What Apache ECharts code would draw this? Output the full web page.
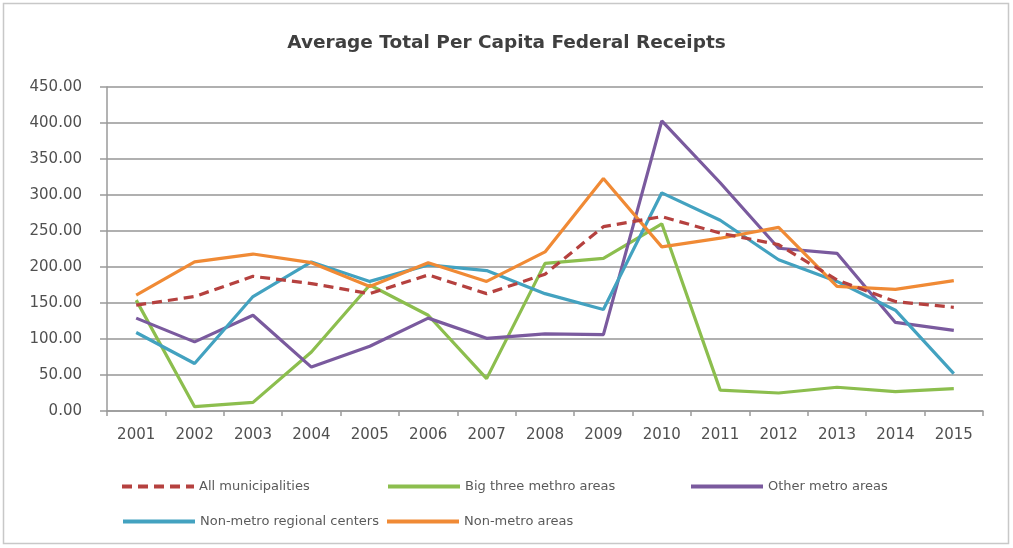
<!DOCTYPE html>
<html><head><meta charset="utf-8">
<script src="https://cdn.jsdelivr.net/npm/echarts@6/dist/echarts.min.js"></script>
<style>html,body{margin:0;padding:0;background:#fff}#c{width:1013px;height:548px}</style>
</head><body><div id="c"></div>
<script>
const years = ['2001','2002','2003','2004','2005','2006','2007','2008','2009','2010','2011','2012','2013','2014','2015'];
const allMunicipalities = [147,159,187,177,163,189,163,190,256,270,247,231,182,152,144];
const bigThree = [154,6,12,82,175,133,45,205,212,260,29,25,33,27,31];
const otherMetro = [129,96,133,61,90,129,101,107,106,403,317,226,219,123,112];
const nonMetroRegional = [109,66,159,207,180,203,195,163,141,303,265,210,180,140,52];
const nonMetroAreas = [161,207,218,206,173,206,180,221,323,228,240,255,173,169,181];
const yTicks = ['0.00','50.00','100.00','150.00','200.00','250.00','300.00','350.00','400.00','450.00'];

const names = ['All municipalities','Big three methro areas','Other metro areas','Non-metro regional centers','Non-metro areas'];
const colors = ['#b5413f','#8cbe4e','#7a5a9e','#43a2c0','#f08a35'];
const datas = [allMunicipalities,bigThree,otherMetro,nonMetroRegional,nonMetroAreas];
const legendPos = [[115,475],[381,475],[684,475],[116,510],[380,510]];

const chart = echarts.init(document.getElementById('c'), null, {renderer:'canvas'});
chart.setOption({
  animation:false,
  backgroundColor:'#fff',
  title:{text:'Average Total Per Capita Federal Receipts',left:'center',top:29,
    textStyle:{fontFamily:'DejaVu Sans',fontSize:18.5,fontWeight:'bold',color:'#3f3f3f'}},
  graphic:[{type:'rect',shape:{x:3.5,y:3.5,width:1005,height:540},style:{fill:'none',stroke:'#c8c8c8',lineWidth:1.5}}],
  grid:{left:107,right:30,top:87,bottom:137,containLabel:false},
  legend: names.map((n,i)=>({data:[n],left:legendPos[i][0],top:legendPos[i][1],itemWidth:72,itemHeight:10,itemGap:4,
     itemStyle:{opacity:0},
     lineStyle:{width:4},
     textStyle:{fontFamily:'DejaVu Sans',fontSize:13,color:'#5a5a5a'}})),
  xAxis:{type:'category',data:years,boundaryGap:true,
    axisLine:{lineStyle:{color:'#9a9a9a',width:1.5}},
    axisTick:{show:true,length:5,lineStyle:{color:'#9a9a9a',width:1.5}},
    axisLabel:{color:'#505050',fontFamily:'DejaVu Sans',fontSize:15,margin:17}},
  yAxis:{type:'value',min:0,max:450,interval:50,
    axisLine:{show:true,lineStyle:{color:'#9a9a9a',width:1.5}},
    axisTick:{show:true,length:7,lineStyle:{color:'#9a9a9a',width:1.5}},
    splitLine:{lineStyle:{color:'#b0b0b0',width:2}},
    axisLabel:{color:'#505050',fontFamily:'DejaVu Sans',fontSize:15,margin:25,
      formatter:(v)=>yTicks[Math.round(v/50)]}},
  series: names.map((n,i)=>({name:n,type:'line',data:datas[i],symbol:'none',
     lineStyle:{color:colors[i],width:3.2,type:i===0?[10,6]:'solid'},itemStyle:{color:colors[i]},z:i===0?5:3}))
});
</script></body></html>
